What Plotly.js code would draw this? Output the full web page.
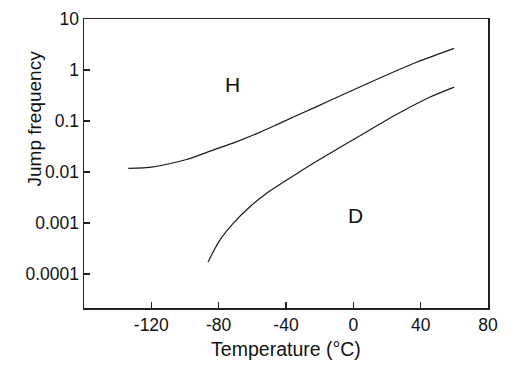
<!DOCTYPE html>
<html>
<head>
<meta charset="utf-8">
<script src="https://cdn.plot.ly/plotly-3.0.1.min.js"></script>
<style>
html,body{margin:0;padding:0;background:#fff;}
#chart{width:521px;height:372px;}
</style>
</head>
<body>
<div id="chart"></div>
<script>
// Curve H : temperature (°C) and jump frequency
var tempH = [-133.7, -118.9, -99.1, -83.4, -69.5, -55.7, -41.9, -22.1, -2.4, 17.4, 37.2, 59.9];
var freqH = [0.0117, 0.0126, 0.0175, 0.0267, 0.0389, 0.0596, 0.0959, 0.189, 0.373, 0.735, 1.40, 2.65];
// Curve D
var tempD = [-86.3, -79.4, -71.5, -61.6, -51.7, -41.9, -32.0, -22.1, -9.3, 5.5, 25.3, 45.0, 59.9];
var freqD = [0.000171, 0.000455, 0.000968, 0.00205, 0.00377, 0.00617, 0.0100, 0.0160, 0.0285, 0.055, 0.132, 0.288, 0.461];
// Axis ticks
var xTicks = [-120, -80, -40, 0, 40, 80];
var xTickText = ['-120', '-80', '-40', '0', '40', '80'];
var yTicks = [0.0001, 0.001, 0.01, 0.1, 1, 10];
var yTickText = ['0.0001', '0.001', '0.01', '0.1', '1', '10'];
// Curve labels
var labelText = ['H', 'D'];
var labelX = [-72, 1];
var labelY = [0.53, 0.0014];

var font = 'Liberation Sans, Arial, sans-serif';
var lineStyle = {color: '#1a1a1a', width: 1.2, shape: 'spline', smoothing: 0.8};

var traces = [
  {x: tempH, y: freqH, mode: 'lines', line: lineStyle, hoverinfo: 'none'},
  {x: tempD, y: freqD, mode: 'lines', line: lineStyle, hoverinfo: 'none'}
];

var annotations = labelText.map(function(t, i) {
  return {x: labelX[i], y: Math.log10(labelY[i]), xref: 'x', yref: 'y', text: t,
          showarrow: false, font: {family: font, size: 21, color: '#111'}};
});
annotations.push({
  xref: 'paper', yref: 'paper', x: 0, y: 0.654, xshift: -62,
  text: 'Jump frequency', textangle: -90, showarrow: false,
  font: {family: font, size: 19, color: '#111'}
});

var layout = {
  width: 521, height: 372,
  margin: {l: 84, r: 33, t: 19, b: 64},
  paper_bgcolor: '#fff', plot_bgcolor: '#fff',
  showlegend: false,
  font: {family: font, color: '#111'},
  xaxis: {
    range: [-160, 80], tickvals: xTicks, ticktext: xTickText, ticks: 'inside', ticklen: 6, tickwidth: 1.3,
    tickcolor: '#222', showline: true, linecolor: '#222', linewidth: 1.5, mirror: true,
    showgrid: false, zeroline: false, tickfont: {family: font, size: 17.5, color: '#111'},
    title: {text: 'Temperature (°C)', font: {family: font, size: 19.5, color: '#111'}, standoff: 9}
  },
  yaxis: {
    type: 'log', range: [-4.67, 1], tickvals: yTicks, ticktext: yTickText,
    ticks: 'inside', ticklen: 6, tickwidth: 1.3, tickcolor: '#222',
    showline: true, linecolor: '#222', linewidth: 1.5, mirror: true,
    showgrid: false, zeroline: false, tickfont: {family: font, size: 17.5, color: '#111'}
  },
  annotations: annotations
};

Plotly.newPlot('chart', traces, layout, {staticPlot: true, displayModeBar: false});
</script>
</body>
</html>
